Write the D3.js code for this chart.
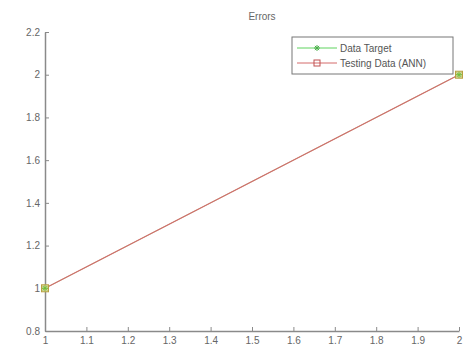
<!DOCTYPE html>
<html><head><meta charset="utf-8">
<script src="https://cdn.jsdelivr.net/npm/d3@7"></script>
<style>body{margin:0;background:#fff}svg{display:block}</style>
</head><body>
<script>
const title = "Errors";
const xValues = [1, 2];
const targetValues = [1, 2];
const annValues = [1, 2];
const seriesNames = ["Data Target", "Testing Data (ANN)"];
const xTicks = [1, 1.1, 1.2, 1.3, 1.4, 1.5, 1.6, 1.7, 1.8, 1.9, 2];
const yTicks = [0.8, 1, 1.2, 1.4, 1.6, 1.8, 2, 2.2];

const W = 465, H = 356;
const svg = d3.select("body").append("svg").attr("width", W).attr("height", H);
const x = d3.scaleLinear().domain([1, 2]).range([45, 459]);
const y = d3.scaleLinear().domain([0.8, 2.2]).range([331, 32]);
const axisColor = "#8a8a8a", textColor = "#666";
const font = "Liberation Sans, Arial, sans-serif";

// axes
const xa = svg.append("g").attr("transform", `translate(0,${y(0.8)})`)
  .call(d3.axisBottom(x).tickValues(xTicks).tickSizeInner(-4).tickSizeOuter(0).tickPadding(6)
        .tickFormat(d3.format("~g")));
const ya = svg.append("g").attr("transform", `translate(${x(1)},0)`)
  .call(d3.axisLeft(y).tickValues(yTicks).tickSizeInner(-4).tickSizeOuter(0).tickPadding(5)
        .tickFormat(d3.format("~g")));
[xa, ya].forEach(g => {
  g.select(".domain").attr("stroke", axisColor).attr("stroke-width", 1.5);
  g.selectAll(".tick line").attr("stroke", axisColor);
  g.selectAll(".tick text").attr("fill", textColor).style("font-family", font).style("font-size", "10px");
});
xa.selectAll(".tick text").attr("dy", "0.7em");

// title
svg.append("text").attr("x", 262).attr("y", 20).attr("text-anchor", "middle")
  .attr("fill", textColor).style("font-family", font).style("font-size", "10px").text(title);

const green = "#5fd35f", red = "#d46a6a";
const line = d3.line().x((d, i) => x(xValues[i])).y(d => y(d));

function star(g, cx, cy, c) {
  const r = 3;
  g.append("path").attr("d", `M${cx-r},${cy}L${cx+r},${cy}M${cx},${cy-r}L${cx},${cy+r}M${cx-r*0.7},${cy-r*0.7}L${cx+r*0.7},${cy+r*0.7}M${cx-r*0.7},${cy+r*0.7}L${cx+r*0.7},${cy-r*0.7}`)
    .attr("stroke", c).attr("stroke-width", 1);
}
function square(g, cx, cy, c) {
  g.append("rect").attr("x", cx - 3.5).attr("y", cy - 3.5).attr("width", 7).attr("height", 7)
    .attr("fill", "#d9d49a").attr("stroke", c).attr("stroke-width", 1);
}

const plot = svg.append("g");
plot.append("path").datum(targetValues).attr("d", line).attr("fill", "none").attr("stroke", green).attr("stroke-width", 0.6);
plot.append("path").datum(annValues).attr("d", line).attr("fill", "none").attr("stroke", red).attr("stroke-width", 1.3);
annValues.forEach((v, i) => square(plot, x(xValues[i]), y(v), "#b8a040"));
targetValues.forEach((v, i) => star(plot, x(xValues[i]), y(v), "#6cbf3a"));

// legend
const lg = svg.append("g");
lg.append("rect").attr("x", 292).attr("y", 37).attr("width", 161).attr("height", 37)
  .attr("fill", "#fff").attr("stroke", "#777").attr("stroke-width", 1);
const entries = [
  {name: seriesNames[0], color: green, mark: "star", yy: 48},
  {name: seriesNames[1], color: red, mark: "square", yy: 63}
];
entries.forEach(e => {
  lg.append("line").attr("x1", 297).attr("x2", 337).attr("y1", e.yy).attr("y2", e.yy)
    .attr("stroke", e.color).attr("stroke-width", 1);
  if (e.mark === "star") star(lg, 317, e.yy, "#4caf4c");
  else lg.append("rect").attr("x", 314).attr("y", e.yy - 3).attr("width", 6).attr("height", 6)
    .attr("fill", "none").attr("stroke", "#c05050");
  lg.append("text").attr("x", 340).attr("y", e.yy + 3.5).attr("fill", "#555")
    .style("font-family", font).style("font-size", "10px").text(e.name);
});
</script>
</body></html>
